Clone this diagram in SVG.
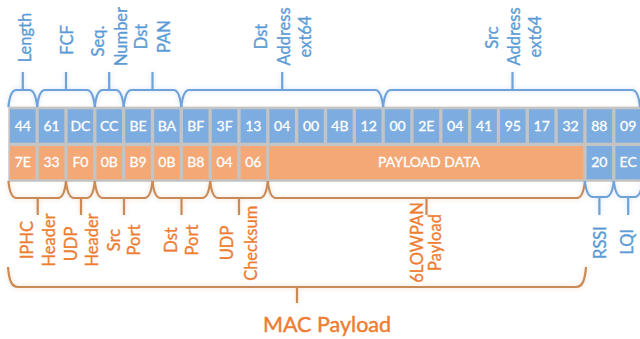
<svg xmlns="http://www.w3.org/2000/svg" width="640" height="339" viewBox="0 0 640 339">
<defs>
<style>
.cb{fill:#7dade0}
.co{fill:#f3a876}
.ct{font-family:Lato,"Liberation Sans",sans-serif;font-size:14px;fill:#fff;stroke:#fff;stroke-width:0.3;text-anchor:middle}
.lb{font-family:Lato,"Liberation Sans",sans-serif;font-size:16.5px;fill:#5b9bd5;stroke:#5b9bd5;stroke-width:0.35;text-anchor:middle}
.lo{font-family:Lato,"Liberation Sans",sans-serif;font-size:16.5px;fill:#ed7d31;stroke:#ed7d31;stroke-width:0.35;text-anchor:middle}
.big{font-family:Lato,"Liberation Sans",sans-serif;font-size:21.5px;fill:#ed7d31;stroke:#ed7d31;stroke-width:0.45}
.bt{fill:none;stroke:#6fa2da;stroke-width:2.2}
.bo{fill:none;stroke:#c98a57;stroke-width:2.2}
</style>
<filter id="glow" x="-10%" y="-50%" width="120%" height="200%">
<feGaussianBlur in="SourceGraphic" stdDeviation="2.5" result="b"/>
<feComponentTransfer in="b" result="c"><feFuncA type="linear" slope="0.35"/></feComponentTransfer>
<feMerge><feMergeNode in="c"/><feMergeNode in="SourceGraphic"/></feMerge>
</filter>
</defs>
<rect width="640" height="339" fill="#fff"/>

<g id="grid">
<rect x="8.3" y="106.6" width="640" height="75.2" fill="#c4c4c4"/>
<g id="row-top">
<rect class="cb" x="10" y="109.3" width="25.5" height="33.4"/>
<rect class="cb" x="38.83" y="109.3" width="25.5" height="33.4"/>
<rect class="cb" x="67.66" y="109.3" width="25.5" height="33.4"/>
<rect class="cb" x="96.49" y="109.3" width="25.5" height="33.4"/>
<rect class="cb" x="125.32" y="109.3" width="25.5" height="33.4"/>
<rect class="cb" x="154.15" y="109.3" width="25.5" height="33.4"/>
<rect class="cb" x="182.98" y="109.3" width="25.5" height="33.4"/>
<rect class="cb" x="211.81" y="109.3" width="25.5" height="33.4"/>
<rect class="cb" x="240.64" y="109.3" width="25.5" height="33.4"/>
<rect class="cb" x="269.47" y="109.3" width="25.5" height="33.4"/>
<rect class="cb" x="298.3" y="109.3" width="25.5" height="33.4"/>
<rect class="cb" x="327.13" y="109.3" width="25.5" height="33.4"/>
<rect class="cb" x="355.96" y="109.3" width="25.5" height="33.4"/>
<rect class="cb" x="384.79" y="109.3" width="25.5" height="33.4"/>
<rect class="cb" x="413.62" y="109.3" width="25.5" height="33.4"/>
<rect class="cb" x="442.45" y="109.3" width="25.5" height="33.4"/>
<rect class="cb" x="471.28" y="109.3" width="25.5" height="33.4"/>
<rect class="cb" x="500.11" y="109.3" width="25.5" height="33.4"/>
<rect class="cb" x="528.94" y="109.3" width="25.5" height="33.4"/>
<rect class="cb" x="557.77" y="109.3" width="25.5" height="33.4"/>
<rect class="cb" x="586.6" y="109.3" width="25.5" height="33.4"/>
<rect class="cb" x="615.43" y="109.3" width="25.5" height="33.4"/>
<text class="ct" x="22.75" y="131">44</text>
<text class="ct" x="51.58" y="131">61</text>
<text class="ct" x="80.41" y="131">DC</text>
<text class="ct" x="109.24" y="131">CC</text>
<text class="ct" x="138.07" y="131">BE</text>
<text class="ct" x="166.9" y="131">BA</text>
<text class="ct" x="195.73" y="131">BF</text>
<text class="ct" x="224.56" y="131">3F</text>
<text class="ct" x="253.39" y="131">13</text>
<text class="ct" x="282.22" y="131">04</text>
<text class="ct" x="311.05" y="131">00</text>
<text class="ct" x="339.88" y="131">4B</text>
<text class="ct" x="368.71" y="131">12</text>
<text class="ct" x="397.54" y="131">00</text>
<text class="ct" x="426.37" y="131">2E</text>
<text class="ct" x="455.2" y="131">04</text>
<text class="ct" x="484.03" y="131">41</text>
<text class="ct" x="512.86" y="131">95</text>
<text class="ct" x="541.69" y="131">17</text>
<text class="ct" x="570.52" y="131">32</text>
<text class="ct" x="599.35" y="131">88</text>
<text class="ct" x="628.18" y="131">09</text>
</g>
<g id="row-bottom">
<rect class="co" x="10" y="146" width="25.5" height="33.3"/>
<rect class="co" x="38.83" y="146" width="25.5" height="33.3"/>
<rect class="co" x="67.66" y="146" width="25.5" height="33.3"/>
<rect class="co" x="96.49" y="146" width="25.5" height="33.3"/>
<rect class="co" x="125.32" y="146" width="25.5" height="33.3"/>
<rect class="co" x="154.15" y="146" width="25.5" height="33.3"/>
<rect class="co" x="182.98" y="146" width="25.5" height="33.3"/>
<rect class="co" x="211.81" y="146" width="25.5" height="33.3"/>
<rect class="co" x="240.64" y="146" width="25.5" height="33.3"/>
<rect class="co" x="269.47" y="146" width="313.83" height="33.3"/>
<rect class="cb" x="586.6" y="146" width="25.5" height="33.3"/>
<rect class="cb" x="615.43" y="146" width="25.5" height="33.3"/>
<text class="ct" x="22.75" y="167">7E</text>
<text class="ct" x="51.58" y="167">33</text>
<text class="ct" x="80.41" y="167">F0</text>
<text class="ct" x="109.24" y="167">0B</text>
<text class="ct" x="138.07" y="167">B9</text>
<text class="ct" x="166.9" y="167">0B</text>
<text class="ct" x="195.73" y="167">B8</text>
<text class="ct" x="224.56" y="167">04</text>
<text class="ct" x="253.39" y="167">06</text>
<text class="ct" x="429" y="167">PAYLOAD DATA</text>
<text class="ct" x="599.35" y="167">20</text>
<text class="ct" x="628.18" y="167">EC</text>
</g>
</g>

<g id="connectors" filter="url(#glow)">
<g id="top-braces" class="bt">
<path d="M8.4,107 C9.4,97 11.4,90 16.4,90 H29.2 C34.2,90 36.2,97 37.2,107 M22.8,90 V72"/>
<path d="M37.2,107 C38.2,97 40.2,90 45.2,90 H86.8 C91.8,90 93.8,97 94.8,107 M66,90 V72"/>
<path d="M94.8,107 C95.8,97 97.8,90 102.8,90 H115.7 C120.7,90 122.7,97 123.7,107 M109.2,90 V72"/>
<path d="M123.7,107 C124.7,97 126.7,90 131.7,90 H173.3 C178.3,90 180.3,97 181.3,107 M152.5,90 V72"/>
<path d="M181.3,107 C182.3,97 184.3,90 189.3,90 H375.1 C380.1,90 382.1,97 383.1,107 M282.2,90 V72"/>
<path d="M383.1,107 C384.1,97 386.1,90 391.1,90 H632 C637,90 639,97 640,107 M512.5,90 V72"/>
</g>
<g id="bottom-braces" class="bo">
<path d="M8.4,181 C9.4,191 11.4,198 16.4,198 H58 C63,198 65,191 66,181 M37.7,198 V215"/>
<path d="M66,181 C67,191 69,198 74,198 H86.8 C91.8,198 93.8,191 94.8,181 M81,198 V215"/>
<path d="M94.8,181 C95.8,191 97.8,198 102.8,198 H144.5 C149.5,198 151.5,191 152.5,181 M124,198 V215"/>
<path d="M152.5,181 C153.5,191 155.5,198 160.5,198 H202.2 C207.2,198 209.2,191 210.2,181 M181.5,198 V215"/>
<path d="M210.2,181 C211.2,191 213.2,198 218.2,198 H259.8 C264.8,198 266.8,191 267.8,181 M239,198 V215"/>
<path d="M267.8,181 C268.8,191 270.8,198 275.8,198 H576.9 C581.9,198 583.9,191 584.9,181 M426.5,198 V215"/>
<path d="M8,267 C9,279 11,287 18,287 H576 C583,287 585,279 586,267 M297,287 V303"/>
</g>
<g id="side-braces" class="bt">
<path d="M584.9,181 C585.9,190 587.9,197 592.9,197 H605.8 C610.8,197 612.8,190 613.8,181 M599.4,197 V215"/>
<path d="M613.8,181 C614.8,190 616.8,197 621.8,197 H634.6 C639.6,197 641.6,190 642.6,181 M628.2,197 V215"/>
</g>
</g>

<g id="label-length"><text class="lb" transform="translate(30.5,37.5) rotate(-90)">Length</text></g>
<g id="label-fcf"><text class="lb" transform="translate(72.5,40) rotate(-90)">FCF</text></g>
<g id="label-seq"><text class="lb" transform="translate(103.5,41) rotate(-90)">Seq.</text><text class="lb" transform="translate(126.5,36.5) rotate(-90)">Number</text></g>
<g id="label-dstpan"><text class="lb" transform="translate(146.7,36.5) rotate(-90)">Dst</text><text class="lb" transform="translate(170,36.5) rotate(-90)">PAN</text></g>
<g id="label-dstaddr"><text class="lb" transform="translate(266.7,36.5) rotate(-90)">Dst</text><text class="lb" transform="translate(290,36.5) rotate(-90)">Address</text><text class="lb" transform="translate(311,36.5) rotate(-90)">ext64</text></g>
<g id="label-srcaddr"><text class="lb" transform="translate(498.3,37.5) rotate(-90)">Src</text><text class="lb" transform="translate(520,36.5) rotate(-90)">Address</text><text class="lb" transform="translate(540.5,36.5) rotate(-90)">ext64</text></g>

<g id="label-iphc"><text class="lo" transform="translate(33.3,240) rotate(-90)">IPHC</text><text class="lo" transform="translate(55,240) rotate(-90)">Header</text></g>
<g id="label-udphdr"><text class="lo" transform="translate(76.7,244) rotate(-90)">UDP</text><text class="lo" transform="translate(98.3,240) rotate(-90)">Header</text></g>
<g id="label-srcport"><text class="lo" transform="translate(120,240) rotate(-90)">Src</text><text class="lo" transform="translate(140,240) rotate(-90)">Port</text></g>
<g id="label-dstport"><text class="lo" transform="translate(176.7,240) rotate(-90)">Dst</text><text class="lo" transform="translate(198.3,240) rotate(-90)">Port</text></g>
<g id="label-udpcs"><text class="lo" transform="translate(233.3,243) rotate(-90)">UDP</text><text class="lo" transform="translate(256.7,243.3) rotate(-90)">Checksum</text></g>
<g id="label-6lowpan"><text class="lo" transform="translate(423.3,242.5) rotate(-90)">6LOWPAN</text><text class="lo" transform="translate(440.5,242.5) rotate(-90)">Payload</text></g>
<g id="label-rssi"><text class="lb" transform="translate(606,242.5) rotate(-90)">RSSI</text></g>
<g id="label-lqi"><text class="lb" transform="translate(632.5,241.7) rotate(-90)">LQI</text></g>
<g id="label-mac"><text class="big" x="263" y="331.5">MAC Payload</text></g>
</svg>
